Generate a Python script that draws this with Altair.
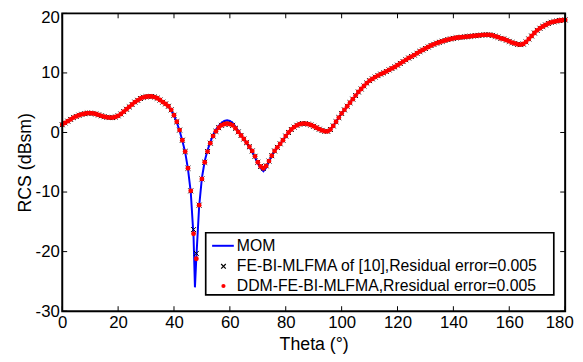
import altair as alt
import pandas as pd

# ---------------- data ----------------
theta = list(range(181))

ddm_rcs = [
    1.3, 1.6, 1.9, 2.2, 2.5, 2.7, 2.9, 3.05, 3.15, 3.25,
    3.25, 3.2, 3.1, 2.95, 2.8, 2.65, 2.55, 2.5, 2.5, 2.6,
    2.8, 3.1, 3.5, 3.9, 4.3, 4.7, 5.1, 5.4, 5.7, 5.9,
    6.0, 6.05, 6.05, 5.95, 5.75, 5.45, 5.1, 4.8, 4.4, 3.8,
    2.9, 1.8, 0.4, -1.3, -3.2, -6.0, -9.8, -17.0, -21.2, -12.2,
    -7.8, -5.0, -3.2, -1.8, -0.6, 0.2, 0.8, 1.2, 1.4, 1.5,
    1.4, 1.2, 0.7, 0.1, -0.5, -1.1, -1.7, -2.4, -3.1, -4.0,
    -5.0, -5.7, -6.0, -5.6, -4.8, -3.9, -3.1, -2.5, -1.9, -1.3,
    -0.6, 0.0, 0.5, 0.9, 1.2, 1.4, 1.5, 1.5, 1.4, 1.25,
    1.05, 0.8, 0.55, 0.35, 0.2, 0.2, 0.5, 1.1, 1.8, 2.5,
    3.2, 3.8, 4.4, 5.0, 5.6, 6.2, 6.8, 7.3, 7.8, 8.3,
    8.7, 9.0, 9.3, 9.55, 9.8, 10.0, 10.25, 10.5, 10.75, 11.0,
    11.3, 11.6, 11.9, 12.2, 12.5, 12.75, 13.0, 13.3, 13.6, 13.85,
    14.1, 14.35, 14.6, 14.8, 15.0, 15.15, 15.3, 15.45, 15.6, 15.7,
    15.8, 15.9, 15.95, 16.0, 16.05, 16.1, 16.15, 16.2, 16.25, 16.3,
    16.35, 16.4, 16.4, 16.4, 16.3, 16.15, 16.0, 15.8, 15.7, 15.5,
    15.3, 15.1, 14.95, 14.8, 14.75, 14.85, 15.2, 15.7, 16.2, 16.7,
    17.15, 17.5, 17.8, 18.05, 18.3, 18.5, 18.6, 18.7, 18.8, 18.85,
    18.9,
]

febi_rcs = [
    1.3, 1.6, 1.9, 2.2, 2.5, 2.7, 2.9, 3.05, 3.15, 3.25,
    3.25, 3.2, 3.1, 2.95, 2.8, 2.65, 2.55, 2.5, 2.5, 2.6,
    2.8, 3.1, 3.5, 3.9, 4.3, 4.7, 5.1, 5.4, 5.7, 5.9,
    6.0, 6.05, 6.05, 5.95, 5.75, 5.45, 5.1, 4.8, 4.4, 3.8,
    2.9, 1.8, 0.4, -1.3, -3.2, -6.0, -9.8, -16.3, -20.3, -12.2,
    -7.8, -5.0, -3.2, -1.8, -0.6, 0.2, 0.8, 1.2, 1.4, 1.5,
    1.4, 1.2, 0.7, 0.1, -0.5, -1.1, -1.7, -2.4, -3.1, -4.0,
    -5.0, -5.7, -6.0, -5.6, -4.8, -3.9, -3.1, -2.5, -1.9, -1.3,
    -0.6, 0.0, 0.5, 0.9, 1.2, 1.4, 1.5, 1.5, 1.4, 1.25,
    1.05, 0.8, 0.55, 0.35, 0.2, 0.2, 0.5, 1.1, 1.8, 2.5,
    3.2, 3.8, 4.4, 5.0, 5.6, 6.2, 6.8, 7.3, 7.8, 8.3,
    8.7, 9.0, 9.3, 9.55, 9.8, 10.0, 10.25, 10.5, 10.75, 11.0,
    11.3, 11.6, 11.9, 12.2, 12.5, 12.75, 13.0, 13.3, 13.6, 13.85,
    14.1, 14.35, 14.6, 14.8, 15.0, 15.15, 15.3, 15.45, 15.6, 15.7,
    15.8, 15.9, 15.95, 16.0, 16.05, 16.1, 16.15, 16.2, 16.25, 16.3,
    16.35, 16.4, 16.4, 16.4, 16.3, 16.15, 16.0, 15.8, 15.7, 15.5,
    15.3, 15.1, 14.95, 14.8, 14.75, 14.85, 15.2, 15.7, 16.2, 16.7,
    17.15, 17.5, 17.8, 18.05, 18.3, 18.5, 18.6, 18.7, 18.8, 18.85,
    18.9,
]

mom_rcs = [
    1.3, 1.6, 1.9, 2.2, 2.5, 2.7, 2.9, 3.05, 3.15, 3.25,
    3.25, 3.2, 3.1, 2.95, 2.8, 2.65, 2.55, 2.5, 2.5, 2.6,
    2.8, 3.1, 3.5, 3.9, 4.3, 4.7, 5.1, 5.4, 5.7, 5.9,
    6.0, 6.05, 6.05, 5.95, 5.75, 5.45, 5.1, 4.8, 4.35, 3.75,
    2.85, 1.7, 0.3, -1.4, -3.3, -6.1, -10.0, -17.5, -21.0, -12.4,
    -7.6, -4.8, -3.0, -1.6, -0.4, 0.5, 1.1, 1.6, 1.95, 2.05,
    1.95, 1.6, 1.0, 0.3, -0.4, -1.1, -1.8, -2.5, -3.3, -4.2,
    -5.2, -6.0, -6.5, -5.9, -4.9, -3.9, -3.1, -2.5, -1.9, -1.3,
    -0.6, 0.0, 0.5, 0.9, 1.25, 1.5, 1.6, 1.6, 1.5, 1.3,
    1.05, 0.8, 0.55, 0.35, 0.2, 0.2, 0.5, 1.1, 1.8, 2.5,
    3.2, 3.8, 4.4, 5.0, 5.6, 6.2, 6.8, 7.3, 7.8, 8.3,
    8.7, 9.0, 9.3, 9.55, 9.8, 10.0, 10.25, 10.5, 10.75, 11.0,
    11.3, 11.6, 11.9, 12.2, 12.5, 12.75, 13.0, 13.3, 13.6, 13.85,
    14.1, 14.35, 14.6, 14.8, 15.0, 15.15, 15.3, 15.45, 15.6, 15.7,
    15.8, 15.9, 15.95, 16.0, 16.05, 16.1, 16.15, 16.2, 16.25, 16.3,
    16.35, 16.4, 16.4, 16.4, 16.3, 16.15, 16.0, 15.8, 15.7, 15.5,
    15.3, 15.1, 14.95, 14.8, 14.75, 14.85, 15.2, 15.7, 16.2, 16.7,
    17.15, 17.5, 17.8, 18.05, 18.3, 18.5, 18.6, 18.7, 18.8, 18.85,
    18.9,
]
# extra fine MOM samples at the deep null
mom_extra_theta = [47.5]
mom_extra_rcs = [-26.0]

x_ticks = [0, 20, 40, 60, 80, 100, 120, 140, 160, 180]
y_ticks = [-30, -20, -10, 0, 10, 20]

legend_labels = [
    "MOM",
    "FE-BI-MLFMA of [10],Residual error=0.005",
    "DDM-FE-BI-MLFMA,Rresidual error=0.005",
]

# ---------------- style ----------------
W, H = 510, 302
FONT = "Liberation Sans"
BLUE = "#0000ff"
RED = "#ff0000"
XPATH = "M-1,-1L1,1M-1,1L1,-1"
TICK = 5

xs = alt.Scale(domain=[0, 180], nice=False, zero=False)
ys = alt.Scale(domain=[-30, 20], nice=False, zero=False)

mom_df = pd.DataFrame({
    "theta": theta + mom_extra_theta,
    "rcs": mom_rcs + mom_extra_rcs,
}).sort_values("theta")
febi_df = pd.DataFrame({"theta": theta, "rcs": febi_rcs})
ddm_df = pd.DataFrame({"theta": theta, "rcs": ddm_rcs})

x_axis = alt.Axis(values=x_ticks, title="Theta (°)", ticks=False, domain=False,
                  grid=False, labelFlush=False, labelOverlap=False,
                  labelExpr="'' + datum.value",
                  labelOffset={"condition": {"test": "datum.value == 180", "value": -6},
                               "value": 0},
                  labelFontSize=17, titleFontSize=18, titleFontWeight="normal",
                  labelPadding=4, titlePadding=5)
y_axis = alt.Axis(values=y_ticks, title="RCS (dBsm)", ticks=False, domain=False,
                  grid=False, labelFlush=False, labelOverlap=False,
                  labelExpr="'' + datum.value",
                  labelOffset={"condition": {"test": "datum.value == 20", "value": 4},
                               "value": 0},
                  labelFontSize=17, titleFontSize=18, titleFontWeight="normal",
                  labelPadding=3, titlePadding=1)

X = alt.X("theta:Q", scale=xs, axis=x_axis)
Y = alt.Y("rcs:Q", scale=ys, axis=y_axis)

line = alt.Chart(mom_df).mark_line(color=BLUE, strokeWidth=2, clip=True).encode(
    x=X, y=Y, order="theta:Q",
)

crosses = alt.Chart(febi_df).mark_point(
    shape=XPATH, size=25, filled=False, color="black", strokeWidth=1, opacity=1
).encode(x=X, y=Y)

dots = alt.Chart(ddm_df).mark_circle(color=RED, size=24, opacity=1).encode(x=X, y=Y)

# inward ticks on all four sides (MATLAB box style)
xt_df = pd.DataFrame({"theta": x_ticks})
yt_df = pd.DataFrame({"rcs": y_ticks})
tick_bottom = alt.Chart(xt_df).mark_rule(color="black", strokeWidth=1).encode(
    x=X, y=alt.value(H), y2=alt.value(H - TICK))
tick_top = alt.Chart(xt_df).mark_rule(color="black", strokeWidth=1).encode(
    x=X, y=alt.value(0), y2=alt.value(TICK))
tick_left = alt.Chart(yt_df).mark_rule(color="black", strokeWidth=1).encode(
    y=Y, x=alt.value(0), x2=alt.value(TICK))
tick_right = alt.Chart(yt_df).mark_rule(color="black", strokeWidth=1).encode(
    y=Y, x=alt.value(W), x2=alt.value(W - TICK))

one = pd.DataFrame({"k": [0]})
frame = alt.Chart(one).mark_rect(fill=None, stroke="black", strokeWidth=2).encode(
    x=alt.value(0), x2=alt.value(W), y=alt.value(0), y2=alt.value(H))

# ---------------- legend (drawn inside the plot, bottom right) ----------------
LX0, LX1, LY0, LY1 = 145.5, 498.5, 222.5, 285.5
rows_y = [235.7, 256.5, 276.5]
sym_x = 163.5
txt_x = 177

leg_box = alt.Chart(one).mark_rect(fill="white", stroke="black", strokeWidth=1.7).encode(
    x=alt.value(LX0), x2=alt.value(LX1), y=alt.value(LY0), y2=alt.value(LY1))
leg_line = alt.Chart(one).mark_rule(color=BLUE, strokeWidth=2).encode(
    x=alt.value(152), x2=alt.value(174), y=alt.value(rows_y[0]))
leg_cross = alt.Chart(one).mark_point(
    shape=XPATH, size=22, filled=False, color="black", strokeWidth=1.2, opacity=1
).encode(x=alt.value(sym_x), y=alt.value(rows_y[1]))
leg_dot = alt.Chart(one).mark_circle(color=RED, size=18, opacity=1).encode(
    x=alt.value(sym_x), y=alt.value(rows_y[2]))
leg_texts = [
    alt.Chart(one).mark_text(align="left", baseline="middle", fontSize=16,
                             font=FONT, color="black").encode(
        x=alt.value(txt_x), y=alt.value(ry), text=alt.value(lab))
    for lab, ry in zip(legend_labels, rows_y)
]

chart = alt.layer(
    line, crosses, dots,
    tick_bottom, tick_top, tick_left, tick_right, frame,
    leg_box, leg_line, leg_cross, leg_dot, *leg_texts,
).properties(
    width=W, height=H,
    autosize=alt.AutoSizeParams(type="none"),
    padding={"left": 55, "top": 3, "right": 10, "bottom": 41},
).configure_view(
    stroke=None
).configure_axis(
    labelFont=FONT, titleFont=FONT, labelColor="black", titleColor="black",
    titleFontWeight="normal",
).configure(background="white")

chart.save("out.html", embed_options={"renderer": "svg", "actions": False})
